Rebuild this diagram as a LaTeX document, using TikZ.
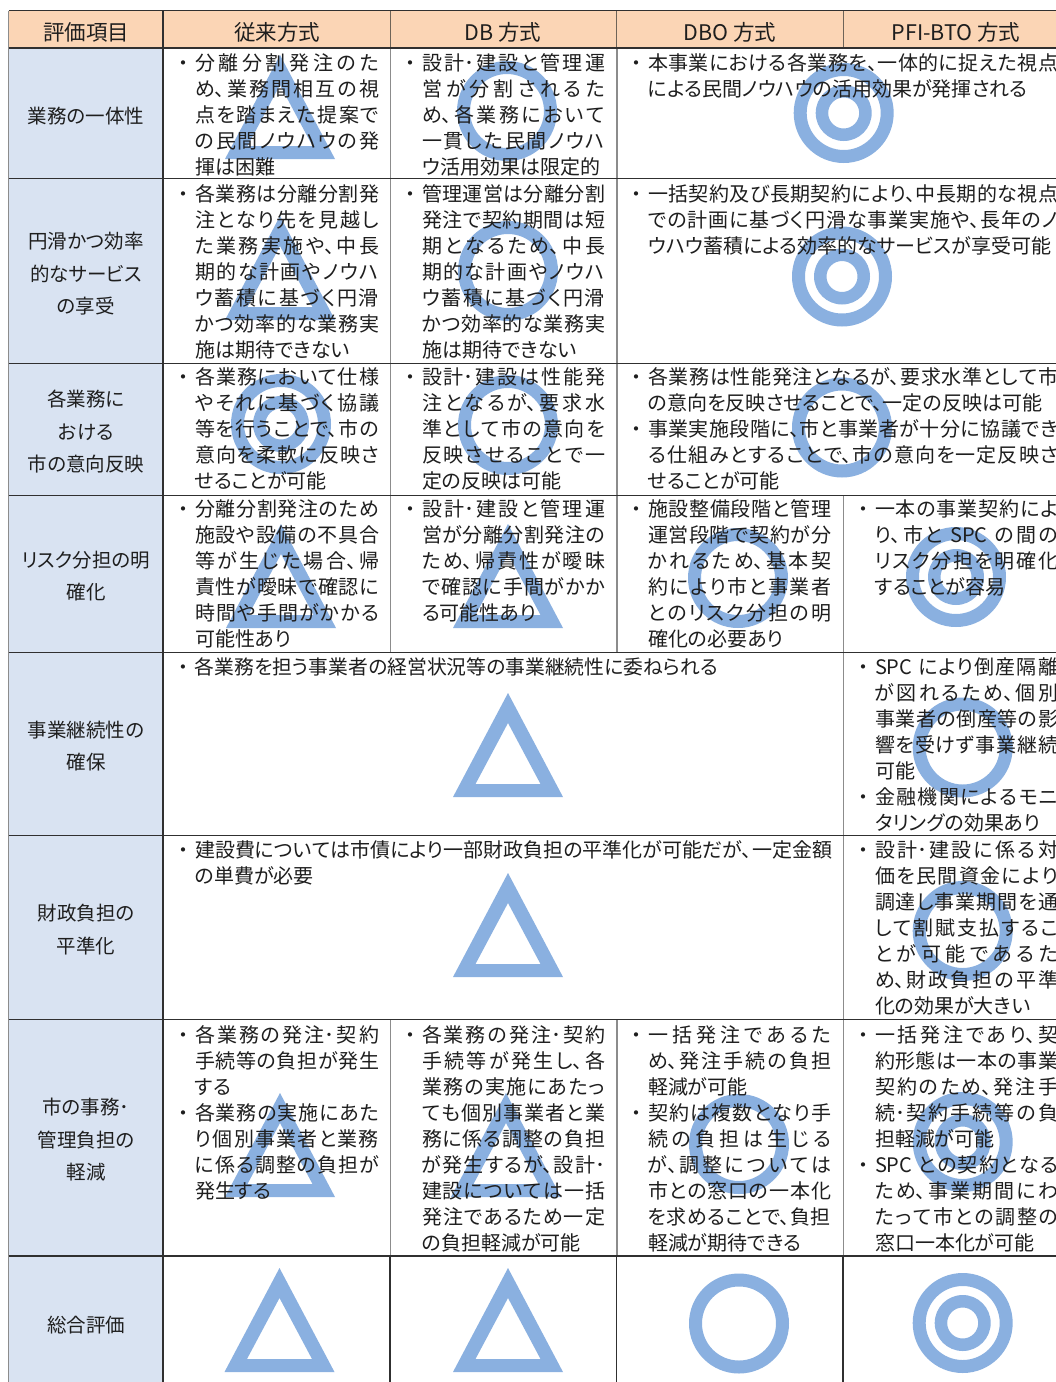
\documentclass[tikz,border=0pt]{standalone}
\usepackage{fontspec}
\newfontfamily\jp[RawFeature={+palt}]{Noto Sans CJK JP}
\XeTeXlinebreaklocale "ja"
\XeTeXlinebreakskip=0pt plus 1fil minus 0.3pt
\definecolor{headfill}{HTML}{FBD5B5}
\definecolor{rowfill}{HTML}{D9E3F2}
\definecolor{markblue}{HTML}{8AB0E0}
\definecolor{ink}{HTML}{1E1E1E}
\definecolor{darkline}{HTML}{303030}
\definecolor{grayline}{HTML}{8C8C8C}
\definecolor{headline}{HTML}{6E6458}
\tikzset{
  bodytext/.style={anchor=north west,inner sep=0pt,outer sep=0pt,text=ink,font=\jp\fontsize{20}{26}\selectfont},
  rowtext/.style={inner sep=0pt,text=ink,align=center,font=\jp\fontsize{19.5}{32.5}\selectfont},
  headtext/.style={inner sep=0pt,text=ink,font=\jp\fontsize{21.5}{26}\selectfont},
  darkrule/.style={draw=darkline,line width=1.3pt},
  grayrule/.style={draw=grayline,line width=1pt},
  headrule/.style={draw=headline,line width=1pt},
  symbolfill/.style={fill=markblue,even odd rule}
}
\newlength\cellw
% justified line, natural line, bullet
\newcommand\J[1]{\par\noindent\rule{0pt}{14pt}#1\par}
\newcommand\N[1]{\hbox{\rule{0pt}{14pt}#1}}
\newcommand\Bu{\llap{\makebox[23pt][c]{・}}}
\newcommand\cellnode[5]{%
  \node[bodytext] (#1) at ({#2},{#3-9})
    {\setlength\cellw{#4pt}\vbox{\hsize=\cellw\parfillskip=0pt\parskip=0pt\spaceskip=5pt plus 1fil\lineskiplimit=-100pt\baselineskip=26pt\relax #5}};}
\newcommand\tri[2]{%
  \fill[symbolfill] ({#1-55},{#2}) -- ({#1+55},{#2}) -- ({#1},{#2-104}) -- cycle
    ({#1-32.5},{#2-13}) -- ({#1+32.5},{#2-13}) -- ({#1},{#2-74}) -- cycle;}
\newcommand\ring[2]{%
  \fill[symbolfill] (#1,#2) circle[radius=50] (#1,#2) circle[radius=37];}
\newcommand\dring[2]{%
  \fill[symbolfill] (#1,#2) circle[radius=50] (#1,#2) circle[radius=37]
    (#1,#2) circle[radius=28] (#1,#2) circle[radius=15.5];}
\begin{document}
\begin{tikzpicture}[x=1pt,y=-1pt]
\useasboundingbox (0,0) rectangle (1056,1382);
\fill[white] (0,0) rectangle (1056,1382);
% fills
\fill[headfill] (8.5,11) rectangle (1056,48);
\fill[rowfill] (8.5,48) rectangle (163,1382);
% marks
\tri{280}{159}\ring{507}{111}\dring{843.7}{113}
\tri{280}{320}\ring{508}{271}\dring{842}{276.5}
\dring{281}{424}\ring{508}{425}\ring{842}{427.5}
\tri{281}{628}\tri{508}{628}\ring{738}{578}\dring{956}{577}
\tri{508}{797}\ring{962.7}{747.5}
\tri{508}{977}\ring{962.7}{931}
\tri{280}{1197}\tri{506}{1197}\ring{739}{1144}\dring{962.7}{1142}
\tri{279.5}{1372}\tri{508}{1372}\ring{739}{1323.5}\dring{962.7}{1323}
% grid
\draw[headrule] (390,11) -- (390,48);
\draw[headrule] (616.7,11) -- (616.7,48);
\draw[headrule] (843,11) -- (843,48);
\draw[grayrule] (390,48) -- (390,652.7);
\draw[grayrule] (390,1019.3) -- (390,1255.7);
\draw[grayrule,line width=1.8pt] (616.7,48) -- (616.7,652.7);
\draw[grayrule,line width=1.8pt] (616.7,1019.3) -- (616.7,1255.7);
\draw[grayrule] (843,495.5) -- (843,1255.7);
\draw[darkrule] (390,1255.7) -- (390,1382);
\draw[darkrule] (616.7,1255.7) -- (616.7,1382);
\draw[darkrule] (843,1255.7) -- (843,1382);
\draw[darkrule] (163,11) -- (163,1382);
\draw[grayrule] (8.5,11) -- (8.5,1382);
\draw[darkrule] (8.5,10.5) -- (1056,10.5);
\draw[darkrule] (8.5,48) -- (1056,48);
\draw[darkrule] (8.5,178.5) -- (1056,178.5);
\draw[darkrule] (8.5,363.5) -- (1056,363.5);
\draw[darkrule] (8.5,495.5) -- (1056,495.5);
\draw[darkrule] (8.5,652.7) -- (1056,652.7);
\draw[darkrule] (8.5,835.7) -- (1056,835.7);
\draw[darkrule] (8.5,1019.3) -- (1056,1019.3);
\draw[darkrule,line width=1.8pt] (8.5,1255.7) -- (1056,1255.7);
% header
\node[headtext] (h1) at (86,32) {評価項目};
\node[headtext] (h2) at (277,32) {従来方式};
\node[headtext] (h3) at (503,32) {DB 方式};
\node[headtext] (h4) at (730,32) {DBO 方式};
\node[headtext] (h5) at (956,32) {PFI-BTO 方式};
% row headers
\node[rowtext] (r1) at (86,116) {業務の一体性};
\node[rowtext] (r2) at (86,274) {円滑かつ効率\\的なサービス\\の享受};
\node[rowtext] (r3) at (86,432) {各業務に\\おける\\市の意向反映};
\node[rowtext] (r4) at (86,576) {リスク分担の明\\確化};
\node[rowtext] (r5) at (86,746) {事業継続性の\\確保};
\node[rowtext] (r6) at (86,929.5) {財政負担の\\平準化};
\node[rowtext] (r7) at (86,1140) {市の事務･\\管理負担の\\軽減};
\node[rowtext] (r8) at (86,1325) {総合評価};
% row 1
\cellnode{a2}{195}{63}{184}{\J{\Bu 分離分割発注のた}\J{め、業務間相互の視}\J{点を踏まえた提案で}\J{の民間ノウハウの発}\N{揮は困難}}
\cellnode{a3}{422}{63}{183}{\J{\Bu 設計･建設と管理運}\J{営が分割されるた}\J{め、各業務において}\J{一貫した民間ノウハ}\N{ウ活用効果は限定的}}
\cellnode{a4}{648}{63}{410}{\J{\Bu 本事業における各業務を、一体的に捉えた視点}\N{による民間ノウハウの活用効果が発揮される}}
% row 2
\cellnode{b2}{195}{194}{184}{\J{\Bu 各業務は分離分割発}\J{注となり先を見越し}\J{た業務実施や、中長}\J{期的な計画やノウハ}\J{ウ蓄積に基づく円滑}\J{かつ効率的な業務実}\N{施は期待できない}}
\cellnode{b3}{422}{194}{183}{\J{\Bu 管理運営は分離分割}\J{発注で契約期間は短}\J{期となるため、中長}\J{期的な計画やノウハ}\J{ウ蓄積に基づく円滑}\J{かつ効率的な業務実}\N{施は期待できない}}
\cellnode{b4}{648}{194}{410}{\J{\Bu 一括契約及び長期契約により、中長期的な視点}\J{での計画に基づく円滑な事業実施や、長年のノ}\N{ウハウ蓄積による効率的なサービスが享受可能}}
% row 3
\cellnode{c2}{195}{377}{184}{\J{\Bu 各業務において仕様}\J{やそれに基づく協議}\J{等を行うことで、市の}\J{意向を柔軟に反映さ}\N{せることが可能}}
\cellnode{c3}{422}{377}{183}{\J{\Bu 設計･建設は性能発}\J{注となるが、要求水}\J{準として市の意向を}\J{反映させることで一}\N{定の反映は可能}}
\cellnode{c4}{648}{377}{410}{\J{\Bu 各業務は性能発注となるが、要求水準として市}\N{の意向を反映させることで、一定の反映は可能}\J{\Bu 事業実施段階に、市と事業者が十分に協議でき}\J{る仕組みとすることで、市の意向を一定反映さ}\N{せることが可能}}
% row 4
\cellnode{d2}{195}{509}{184}{\J{\Bu 分離分割発注のため}\J{施設や設備の不具合}\J{等が生じた場合、帰}\J{責性が曖昧で確認に}\J{時間や手間がかかる}\N{可能性あり}}
\cellnode{d3}{422}{509}{183}{\J{\Bu 設計･建設と管理運}\J{営が分離分割発注の}\J{ため、帰責性が曖昧}\J{で確認に手間がかか}\N{る可能性あり}}
\cellnode{d4}{648}{509}{183}{\J{\Bu 施設整備段階と管理}\J{運営段階で契約が分}\J{かれるため、基本契}\J{約により市と事業者}\J{とのリスク分担の明}\N{確化の必要あり}}
\cellnode{d5}{875}{509}{183}{\J{\Bu 一本の事業契約によ}\J{り、市と SPC の間の}\J{リスク分担を明確化}\N{することが容易}}
% row 5
\cellnode{e2}{195}{666.7}{637}{\fontsize{19.8}{26}\selectfont\N{\Bu 各業務を担う事業者の経営状況等の事業継続性に委ねられる}}
\cellnode{e5}{875}{666.7}{183}{\J{\Bu SPC により倒産隔離}\J{が図れるため、個別}\J{事業者の倒産等の影}\J{響を受けず事業継続}\N{可能}\J{\Bu 金融機関によるモニ}\N{タリングの効果あり}}
% row 6
\cellnode{f2}{195}{850}{637}{\J{\Bu 建設費については市債により一部財政負担の平準化が可能だが、一定金額}\N{の単費が必要}}
\cellnode{f5}{875}{850}{183}{\J{\Bu 設計･建設に係る対}\J{価を民間資金により}\J{調達し事業期間を通}\J{して割賦支払するこ}\J{とが可能であるた}\J{め、財政負担の平準}\N{化の効果が大きい}}
% row 7
\cellnode{g2}{195}{1035}{184}{\J{\Bu 各業務の発注･契約}\J{手続等の負担が発生}\N{する}\J{\Bu 各業務の実施にあた}\J{り個別事業者と業務}\J{に係る調整の負担が}\N{発生する}}
\cellnode{g3}{422}{1035}{183}{\J{\Bu 各業務の発注･契約}\J{手続等が発生し、各}\J{業務の実施にあたっ}\J{ても個別事業者と業}\J{務に係る調整の負担}\J{が発生するが、設計･}\J{建設については一括}\J{発注であるため一定}\N{の負担軽減が可能}}
\cellnode{g4}{648}{1035}{183}{\J{\Bu 一括発注であるた}\J{め、発注手続の負担}\N{軽減が可能}\J{\Bu 契約は複数となり手}\J{続の負担は生じる}\J{が、調整については}\J{市との窓口の一本化}\J{を求めることで、負担}\N{軽減が期待できる}}
\cellnode{g5}{875}{1035}{183}{\J{\Bu 一括発注であり、契}\J{約形態は一本の事業}\J{契約のため、発注手}\J{続･契約手続等の負}\N{担軽減が可能}\J{\Bu SPC との契約となる}\J{ため、事業期間にわ}\J{たって市との調整の}\N{窓口一本化が可能}}
\end{tikzpicture}
\end{document}
